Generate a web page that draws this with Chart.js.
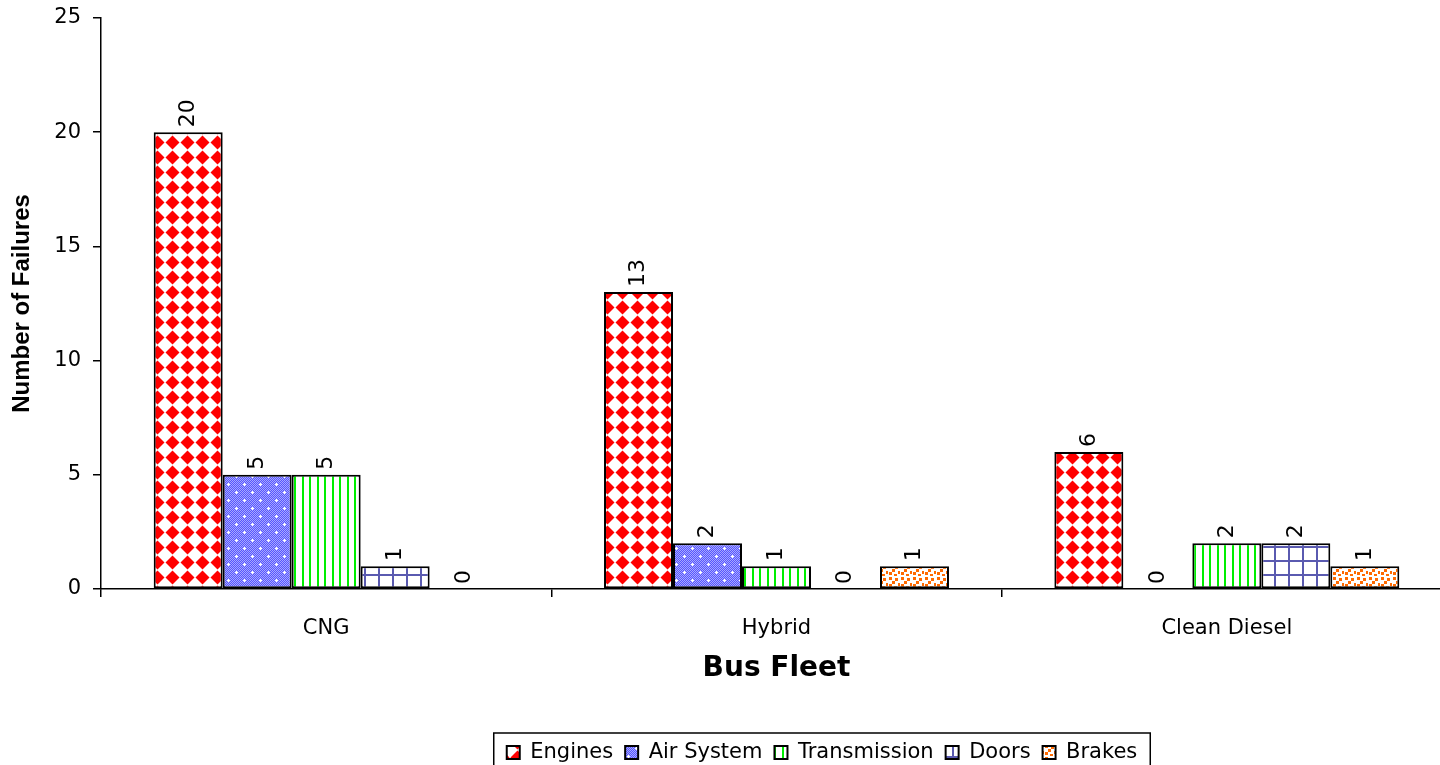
<!DOCTYPE html>
<html lang="en">
<head>
<meta charset="UTF-8">
<title>Failures by Bus Fleet</title>
<script src="https://cdn.jsdelivr.net/npm/chart.js@4.4.1/dist/chart.umd.min.js"></script>
<style>
  html, body { margin: 0; padding: 0; background: #fff; overflow: hidden; }
  #wrap { width: 1440px; height: 765px; overflow: hidden; }
</style>
</head>
<body>
<!-- the plot runs a little past the right edge in the original, so the canvas is wider than the window -->
<div id="wrap"><canvas id="failChart" width="1452" height="765"></canvas></div>
<script>
// data
var fleets = ['CNG', 'Hybrid', 'Clean Diesel'];
var engines = [20, 13, 6];
var airSystem = [5, 2, 0];
var transmission = [5, 1, 2];
var doors = [1, 0, 2];
var brakes = [0, 1, 1];
var yTicks = [0, 5, 10, 15, 20, 25];

var ctx = document.getElementById('failChart').getContext('2d');

// small fill textures, like the old office hatches
function tile(w, h, paint) {
    var c = document.createElement('canvas');
    c.width = w; c.height = h;
    var g = c.getContext('2d');
    paint(g, w, h);
    return ctx.createPattern(c, 'repeat');
}

var engineFill = tile(15, 15, function (g) {
    g.fillStyle = '#fff'; g.fillRect(0, 0, 15, 15);
    g.fillStyle = '#ff0000';
    g.beginPath();
    g.moveTo(7.5, 0.5); g.lineTo(14.5, 7.5); g.lineTo(7.5, 14.5); g.lineTo(0.5, 7.5);
    g.closePath(); g.fill();
});
var airFill = tile(16, 16, function (g) {
    g.fillStyle = '#5656ff'; g.fillRect(0, 0, 16, 16);
    g.fillStyle = '#a8a8ff';
    for (var y = 0; y < 16; y++) for (var x = (y % 2); x < 16; x += 2) g.fillRect(x, y, 1, 1);
    g.fillStyle = '#ffffff';
    [[4, 4], [12, 12]].forEach(function (p) {
        g.fillRect(p[0] - 1, p[1], 3, 1);
        g.fillRect(p[0], p[1] - 1, 1, 3);
    });
});
var transFill = tile(15, 4, function (g) {
    g.fillStyle = '#fff'; g.fillRect(0, 0, 15, 4);
    g.fillStyle = '#00ee00';
    g.fillRect(2, 0, 2, 4);
    g.fillRect(9, 0, 2, 4);
});
var doorFill = tile(14, 14, function (g) {
    g.fillStyle = '#fff'; g.fillRect(0, 0, 14, 14);
    g.fillStyle = '#5a5ab0';
    g.fillRect(0, 0, 2, 14);
    g.fillRect(0, 0, 14, 2);
});
var brakeFill = tile(12, 12, function (g) {
    g.fillStyle = '#fff'; g.fillRect(0, 0, 12, 12);
    g.fillStyle = '#ff6a00';
    [[1, 1], [7, 2], [4, 5], [10, 7], [1, 8], [6, 10]].forEach(function (p) {
        g.fillRect(p[0], p[1], 3, 3);
    });
});

function series(label, data, fill) {
    return {
        label: label,
        data: data,
        backgroundColor: fill,
        borderColor: '#000',
        borderWidth: 2,
        borderSkipped: false,
        barPercentage: 1.0,
        categoryPercentage: 0.766
    };
}

// rotated value labels above each bar
var valueLabels = {
    id: 'valueLabels',
    afterDatasetsDraw: function (chart) {
        var c = chart.ctx;
        c.save();
        c.font = '22px "DejaVu Sans"';
        c.fillStyle = '#000';
        c.textAlign = 'left';
        c.textBaseline = 'middle';
        chart.data.datasets.forEach(function (ds, i) {
            chart.getDatasetMeta(i).data.forEach(function (bar, j) {
                c.save();
                c.translate(bar.x, bar.y - 5);
                c.rotate(-Math.PI / 2);
                c.fillText(String(ds.data[j]), 0, 0);
                c.restore();
            });
        });
        c.restore();
    }
};

// push the legend right and down a little, then frame it
var legendFrame = {
    id: 'legendFrame',
    afterLayout: function (chart) {
        var lg = chart.legend;
        lg.left = 192;
        lg.right = 1452;
        lg.top += 8;
        lg.bottom += 8;
    },
    afterDraw: function (chart) {
        var lg = chart.legend;
        var pad = lg.options.labels.padding;
        var w = lg.lineWidths[0];
        var x0 = (lg.left + pad + lg.right - w) / 2;
        var c = chart.ctx;
        c.save();
        c.strokeStyle = '#000';
        c.lineWidth = 1.5;
        c.strokeRect(x0 - 13, lg.top + 3, w + 14, 60);
        c.restore();
    }
};

var failChart = new Chart(ctx, {
    type: 'bar',
    data: {
        labels: fleets,
        datasets: [
            series('Engines', engines, engineFill),
            series('Air System', airSystem, airFill),
            series('Transmission', transmission, transFill),
            series('Doors', doors, doorFill),
            series('Brakes', brakes, brakeFill)
        ]
    },
    options: {
        responsive: false,
        animation: false,
        layout: { padding: { top: 18, left: 0, right: 0, bottom: 0 } },
        plugins: {
            tooltip: { enabled: false },
            legend: {
                position: 'bottom',
                labels: {
                    color: '#000',
                    font: { family: 'DejaVu Sans', size: 21 },
                    boxWidth: 13,
                    boxHeight: 13,
                    padding: 12
                }
            }
        },
        scales: {
            x: {
                grid: {
                    display: true,
                    drawOnChartArea: false,
                    offset: true,
                    color: '#000',
                    lineWidth: 1.5,
                    tickLength: 8
                },
                border: { color: '#000', width: 1.5 },
                ticks: {
                    color: '#000',
                    padding: 19,
                    font: { family: 'DejaVu Sans', size: 21 }
                },
                title: {
                    display: true,
                    text: 'Bus Fleet',
                    color: '#000',
                    padding: { top: 10, bottom: 36 },
                    font: { family: 'DejaVu Sans', size: 28, weight: 'bold' }
                },
                afterFit: function (s) {
                    s.height = 765 - 589 - s.chart.legend.height;
                    s.paddingLeft = 0;
                    s.paddingRight = 0;
                }
            },
            y: {
                min: 0,
                max: 25,
                afterBuildTicks: function (s) {
                    s.ticks = yTicks.map(function (v) { return { value: v }; });
                },
                grid: {
                    display: true,
                    drawOnChartArea: false,
                    color: '#000',
                    lineWidth: 1.5,
                    tickLength: 8
                },
                border: { color: '#000', width: 1.5 },
                ticks: {
                    color: '#000',
                    padding: 12,
                    font: { family: 'DejaVu Sans', size: 21 }
                },
                title: {
                    display: true,
                    text: 'Number of Failures',
                    color: '#000',
                    padding: { top: 8, bottom: 0 },
                    font: { family: 'Liberation Sans', size: 24, weight: 'bold' }
                },
                afterFit: function (s) {
                    s.width = 101;
                    s.paddingTop = 0;
                    s.paddingBottom = 0;
                }
            }
        }
    },
    plugins: [valueLabels, legendFrame]
});
</script>
</body>
</html>
